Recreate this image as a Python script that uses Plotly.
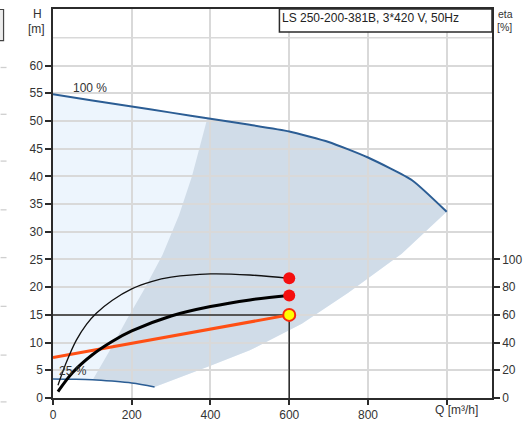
import plotly.graph_objects as go

# Pump curve LS 250-200-381B -- head at full speed (100 %) and at minimum speed (25 %)
hundred_q = [0, 100, 200, 300, 400, 500, 600, 700, 800, 912, 1000]
hundred_h = [54.8, 53.7, 52.6, 51.5, 50.4, 49.3, 48.1, 46.2, 43.4, 39.3, 33.6]

quarter_q = [0, 50, 100, 150, 200, 258]
quarter_h = [3.45, 3.4, 3.3, 3.05, 2.7, 2.0]

# Boundaries of the recommended operating range
left_q = [101, 150, 187, 230, 278, 320, 353, 392]
left_h = [3.3, 9.3, 14.1, 19.4, 25.8, 33.0, 40.0, 50.5]
right_q = [258, 400, 500, 632, 750, 885, 1000]
right_h = [2.0, 5.8, 8.6, 13.4, 19.0, 26.0, 33.6]

# System curve and duty point
system_q = [0, 200, 400, 600]
system_h = [7.3, 9.85, 12.4, 15.0]
duty_q = 600
duty_h = 15.0

# Efficiency curves [%]: pump (thin) and total (thick)
eta_pump_q = [12.6, 33.7, 59, 85, 110, 150, 200, 250, 300, 400, 500, 600]
eta_pump = [9.2, 25.6, 41.6, 53.2, 61.2, 70.4, 78.8, 84.0, 87.2, 89.6, 88.8, 86.4]
eta_total_q = [12.6, 50, 100, 150, 200, 300, 400, 500, 600]
eta_total = [4.6, 18.4, 31.2, 40.8, 48.4, 59.2, 66.0, 70.8, 74.0]

x_ticks = [0, 200, 400, 600, 800, 1000]
x_ticktext = ["0", "200", "400", "600", "800", ""]
h_ticks = list(range(0, 61, 5))
eta_ticks = list(range(0, 101, 20))

H_MAX = 70.2
Q_MAX = 1115
ETA_PER_M = 4.0

FONT = "Liberation Sans, Arial, sans-serif"
AXIS = "#2b2b2b"
TXT = "#333333"
GRID = "#d9d9d9"
LIGHT = "#edf5fd"
DARK = "#d0dce8"
CURVE = "#2b5d94"

W, H = 529, 429
ML, MR, MT, MB = 53, 32, 7, 23
PW, PH = W - ML - MR, H - MT - MB


def px(x):
    return (x - ML) / PW


def py(y):
    return (H - MB - y) / PH


def path(points):
    return "M " + " L ".join(f"{q},{h}" for q, h in points) + " Z"


# Whole speed range envelope
env = list(zip(hundred_q, hundred_h))
env += list(zip(right_q[::-1], right_h[::-1]))
env += list(zip(quarter_q[::-1], quarter_h[::-1]))

# Recommended range
rec = list(zip(left_q, left_h))
rec += [(q, h) for q, h in zip(hundred_q, hundred_h) if q > left_q[-1]]
rec += list(zip(right_q[::-1], right_h[::-1]))
rec += [(q, h) for q, h in zip(quarter_q[::-1], quarter_h[::-1]) if left_q[0] < q < right_q[0]]

shapes = [
    dict(type="path", xref="x", yref="y", path=path(env), fillcolor=LIGHT,
         line=dict(width=0), layer="below"),
    dict(type="path", xref="x", yref="y", path=path(rec), fillcolor=DARK,
         line=dict(width=0), layer="below"),
    dict(type="line", xref="paper", yref="y", x0=0, x1=1, y0=65, y1=65,
         line=dict(color=GRID, width=1.5), layer="below"),
    # type box
    dict(type="rect", xref="paper", yref="paper", x0=px(282), x1=1, y0=py(30.5), y1=1,
         fillcolor="white", line=dict(color=AXIS, width=1.5), layer="above"),
    # edge of the neighbouring panel
    dict(type="rect", xref="paper", yref="paper", x0=px(-2), x1=px(3), y0=py(39.5), y1=py(7.5),
         fillcolor="#ececec", line=dict(color="#444", width=1.2), layer="above"),
]
for yy in [67, 115, 163, 213, 262, 312, 362, 410]:
    shapes.append(dict(type="line", xref="paper", yref="paper", x0=px(0), x1=px(6),
                       y0=py(yy), y1=py(yy), line=dict(color="#cfcfcf", width=1.3)))

fig = go.Figure()

fig.add_trace(go.Scatter(x=hundred_q, y=hundred_h, mode="lines",
                         line=dict(color=CURVE, width=2, shape="spline", smoothing=0.5)))
fig.add_trace(go.Scatter(x=quarter_q, y=quarter_h, mode="lines",
                         line=dict(color=CURVE, width=1.5, shape="spline")))

# Duty point guide lines
fig.add_trace(go.Scatter(x=[0, duty_q, duty_q], y=[duty_h, duty_h, 0], mode="lines",
                         line=dict(color=AXIS, width=1.5)))

fig.add_trace(go.Scatter(x=system_q, y=system_h, mode="lines",
                         line=dict(color="#ff4f14", width=3)))

fig.add_trace(go.Scatter(x=eta_pump_q, y=eta_pump, yaxis="y2", mode="lines",
                         line=dict(color="#111", width=1.3, shape="spline")))
fig.add_trace(go.Scatter(x=eta_total_q, y=eta_total, yaxis="y2", mode="lines",
                         line=dict(color="#000", width=3, shape="spline")))

fig.add_trace(go.Scatter(x=[eta_pump_q[-1], eta_total_q[-1]], y=[eta_pump[-1], eta_total[-1]],
                         yaxis="y2", mode="markers",
                         marker=dict(color="#f50f0f", size=12, line=dict(width=0))))
fig.add_trace(go.Scatter(x=[duty_q], y=[duty_h], mode="markers",
                         marker=dict(color="#ffff00", size=12,
                                     line=dict(color="#f52a0f", width=2))))


def label(text, x, y, size=12, anchor="center", color=TXT):
    return dict(text=text, x=px(x), y=py(y), xref="paper", yref="paper", showarrow=False,
                font=dict(size=size, color=color, family=FONT), xanchor=anchor,
                yanchor="middle", borderpad=0)


annotations = [
    label("H", 37, 12),
    label("[m]", 36, 27.5),
    label("eta", 511, 12.5, size=10.5),
    label("[%]", 510, 25.5, size=10.5),
    label("Q [m³/h]", 461, 418),
    label("LS 250-200-381B, 3*420 V, 50Hz", 284, 16, anchor="left", color="#222"),
    label("100 %", 90, 88),
    label("25 %", 73, 378),
]

fig.update_layout(
    width=W, height=H, margin=dict(l=ML, r=MR, t=MT, b=MB),
    paper_bgcolor="white", plot_bgcolor="white", showlegend=False,
    font=dict(family=FONT, size=12, color=TXT),
    shapes=shapes, annotations=annotations,
    xaxis=dict(range=[0, Q_MAX], tickvals=x_ticks, ticktext=x_ticktext,
               showline=True, linecolor=AXIS, linewidth=1.5, mirror=True,
               ticks="outside", ticklen=5, tickcolor=AXIS, tickwidth=1.5,
               showgrid=True, gridcolor=GRID, gridwidth=1.5, zeroline=False,
               tickfont=dict(size=12, color=TXT, family=FONT)),
    yaxis=dict(range=[0, H_MAX], tickvals=h_ticks,
               showline=True, linecolor=AXIS, linewidth=1.5,
               ticks="outside", ticklen=6, tickcolor=AXIS, tickwidth=1.5,
               showgrid=True, gridcolor=GRID, gridwidth=1.5, zeroline=False,
               tickfont=dict(size=12, color=TXT, family=FONT)),
    yaxis2=dict(range=[0, H_MAX * ETA_PER_M], tickvals=eta_ticks, overlaying="y",
                side="right", showline=True, linecolor=AXIS, linewidth=1.5,
                ticks="outside", ticklen=6, tickcolor=AXIS, tickwidth=1.5,
                showgrid=False, zeroline=False,
                tickfont=dict(size=12, color=TXT, family=FONT)),
)

fig.write_html("out.html")
